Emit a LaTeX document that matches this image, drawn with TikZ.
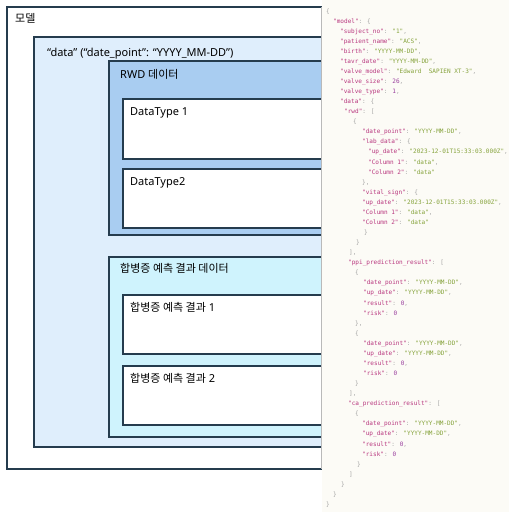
\documentclass[tikz,border=0pt]{standalone}
\usepackage{fontspec}
\setmainfont{Noto Sans}
\newfontfamily\kr{Noto Sans CJK KR}
\newfontfamily\jmono{DejaVu Sans Mono}

\definecolor{bord}{HTML}{253C4E}
\definecolor{dataFill}{HTML}{DFEEFC}
\definecolor{rwdFill}{HTML}{A9CDF1}
\definecolor{predFill}{HTML}{CFF3FD}
\definecolor{codeBg}{HTML}{FCFBF6}
\definecolor{jkey}{HTML}{B8367E}
\definecolor{jstr}{HTML}{86A33C}
\definecolor{jnum}{HTML}{9A3F9E}
\definecolor{jpun}{HTML}{A3A3A3}

% JSON token colouring
\newcommand\jk[1]{\textcolor{jkey}{"#1"}}
\newcommand\js[1]{\textcolor{jstr}{"#1"}}
\newcommand\jn[1]{\textcolor{jnum}{#1}}
\newcommand\jp[1]{\textcolor{jpun}{#1}}
% one line of the JSON listing: line number, indent x, content
\newcommand\jline[3]{\node[jl] (j#1) at (#2,{13+(#1-1)*10.07}) {#3};}

\begin{document}
\begin{tikzpicture}[x=1pt,y=-1pt,
  box/.style={draw=bord, line width=1.2pt, inner sep=0pt, outer sep=0pt, anchor=north west},
  lbl/.style={anchor=base west, inner sep=0pt, font=\fontsize{11}{13}\selectfont},
  jl/.style={anchor=base west, inner sep=0pt, font=\jmono\fontsize{6.05}{7}\selectfont}]
\useasboundingbox (0,0) rectangle (509,512);

% nested containers
\node[box, fill=white, minimum width=330pt, minimum height=462pt] (model) at (7,7) {};
\node[box, fill=dataFill, minimum width=300pt, minimum height=410pt] (data) at (34,37) {};
\node[box, fill=rwdFill, minimum width=230pt, minimum height=174pt] (rwd) at (109,61) {};
\node[box, fill=white, minimum width=220pt, minimum height=60pt] (dt1) at (123,99) {};
\node[box, fill=white, minimum width=220pt, minimum height=59pt] (dt2) at (123,169) {};
\node[box, fill=predFill, minimum width=230pt, minimum height=180pt] (pred) at (109,257) {};
\node[box, fill=white, minimum width=220pt, minimum height=59pt] (p1) at (123,295) {};
\node[box, fill=white, minimum width=220pt, minimum height=59pt] (p2) at (123,366) {};

% container titles
\node[lbl] (tModel) at (15,22) {\kr 모델};
\node[lbl] (tData) at (47,56) {“data” (“date\_point”: “YYYY\_MM-DD”)};
\node[lbl] (tRwd) at (120,78) {RWD {\kr 데이터}};
\node[lbl] (tDt1) at (130,115.5) {DataType 1};
\node[lbl] (tDt2) at (130,185.5) {DataType2};
\node[lbl] (tPred) at (120,272) {\kr 합병증 예측 결과 데이터};
\node[lbl] (tP1) at (130,311) {{\kr 합병증 예측 결과} 1};
\node[lbl] (tP2) at (130,382) {{\kr 합병증 예측 결과} 2};

% code panel
\fill[codeBg] (322,0) rectangle (509,512);
\draw[gray!55, line width=0.8pt] (321.6,7) -- (321.6,469);

\jline{1}{326}{\jp{\{}}
\jline{2}{333}{\jk{model}\jp{: \{}}
\jline{3}{340}{\jk{subject\_no}\jp{: }\js{1}\jp{,}}
\jline{4}{340}{\jk{patient\_name}\jp{: }\js{ACS}\jp{,}}
\jline{5}{340}{\jk{birth}\jp{: }\js{YYYY-MM-DD}\jp{,}}
\jline{6}{340}{\jk{tavr\_date}\jp{: }\js{YYYY-MM-DD}\jp{,}}
\jline{7}{340}{\jk{valve\_model}\jp{: }\js{Edward\ \ SAPIEN XT-3}\jp{,}}
\jline{8}{340}{\jk{valve\_size}\jp{: }\jn{26}\jp{,}}
\jline{9}{340}{\jk{valve\_type}\jp{: }\jn{1}\jp{,}}
\jline{10}{340}{\jk{data}\jp{: \{}}
\jline{11}{344}{\jk{rwd}\jp{: [}}
\jline{12}{353}{\jp{\{}}
\jline{13}{362}{\jk{date\_point}\jp{: }\js{YYYY-MM-DD}\jp{,}}
\jline{14}{362}{\jk{lab\_data}\jp{: \{}}
\jline{15}{368}{\jk{up\_date}\jp{: }\js{2023-12-01T15:33:03.000Z}\jp{,}}
\jline{16}{368}{\jk{Column 1}\jp{: }\js{data}\jp{,}}
\jline{17}{368}{\jk{Column 2}\jp{: }\js{data}}
\jline{18}{362}{\jp{\},}}
\jline{19}{362}{\jk{vital\_sign}\jp{: \{}}
\jline{20}{362}{\jk{up\_date}\jp{: }\js{2023-12-01T15:33:03.000Z}\jp{,}}
\jline{21}{362}{\jk{Column 1}\jp{: }\js{data}\jp{,}}
\jline{22}{362}{\jk{Column 2}\jp{: }\js{data}}
\jline{23}{364}{\jp{\}}}
\jline{24}{356}{\jp{\}}}
\jline{25}{349}{\jp{],}}
\jline{26}{348}{\jk{ppi\_prediction\_result}\jp{: [}}
\jline{27}{355}{\jp{\{}}
\jline{28}{363}{\jk{date\_point}\jp{: }\js{YYYY-MM-DD}\jp{,}}
\jline{29}{363}{\jk{up\_date}\jp{: }\js{YYYY-MM-DD}\jp{,}}
\jline{30}{363}{\jk{result}\jp{: }\jn{0}\jp{,}}
\jline{31}{363}{\jk{risk}\jp{: }\jn{0}}
\jline{32}{355}{\jp{\},}}
\jline{33}{355}{\jp{\{}}
\jline{34}{363}{\jk{date\_point}\jp{: }\js{YYYY-MM-DD}\jp{,}}
\jline{35}{363}{\jk{up\_date}\jp{: }\js{YYYY-MM-DD}\jp{,}}
\jline{36}{363}{\jk{result}\jp{: }\jn{0}\jp{,}}
\jline{37}{363}{\jk{risk}\jp{: }\jn{0}}
\jline{38}{355}{\jp{\}}}
\jline{39}{349}{\jp{],}}
\jline{40}{348}{\jk{ca\_prediction\_result}\jp{: [}}
\jline{41}{355}{\jp{\{}}
\jline{42}{362}{\jk{date\_point}\jp{: }\js{YYYY-MM-DD}\jp{,}}
\jline{43}{362}{\jk{up\_date}\jp{: }\js{YYYY-MM-DD}\jp{,}}
\jline{44}{362}{\jk{result}\jp{: }\jn{0}\jp{,}}
\jline{45}{362}{\jk{risk}\jp{: }\jn{0}}
\jline{46}{357}{\jp{\}}}
\jline{47}{349}{\jp{]}}
\jline{48}{341}{\jp{\}}}
\jline{49}{333}{\jp{\}}}
\jline{50}{326}{\jp{\}}}
\end{tikzpicture}
\end{document}
